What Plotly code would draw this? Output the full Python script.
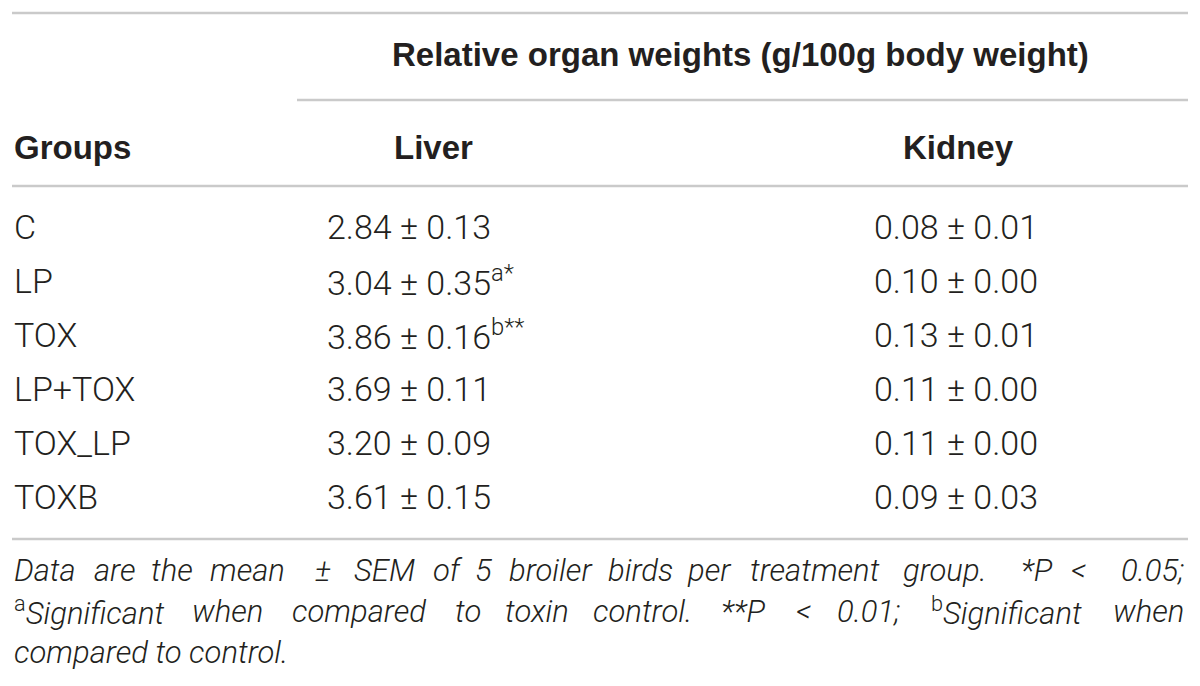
import plotly.graph_objects as go

# table content
groups = ["C", "LP", "TOX", "LP+TOX", "TOX_LP", "TOXB"]
liver_mean = [2.84, 3.04, 3.86, 3.69, 3.20, 3.61]
liver_sem = [0.13, 0.35, 0.16, 0.11, 0.09, 0.15]
liver_mark = ["", "a*", "b**", "", "", ""]
kidney_mean = [0.08, 0.10, 0.13, 0.11, 0.11, 0.09]
kidney_sem = [0.01, 0.00, 0.01, 0.00, 0.00, 0.03]

span_header = "Relative organ weights (g/100g body weight)"
col_headers = ["Groups", "Liver", "Kidney"]

# footnote, one list of words per justified line
foot_line1 = ["Data", "are", "the", "mean", "±", "SEM", "of", "5", "broiler",
              "birds", "per", "treatment", "group.", "*P", "<", "0.05;"]
foot_line2 = ["<sup>a</sup>Significant", "when", "compared", "to", "toxin",
              "control.", "**P", "<", "0.01;", "<sup>b</sup>Significant", "when"]
foot_line3 = "compared to control."

foot_x1 = [12, 115, 172, 247, 323, 384, 448, 483, 550, 640, 709, 815, 945,
           1037, 1078, 1186]
foot_x2 = [12, 227, 359, 468, 537, 642, 743, 803, 868, 1006, 1186]

INK = "#231f20"
RULE = "#cacaca"
HEAD = "Liberation Sans"
BODY = "Roboto"
W, H = 1200, 686
PAD = 8  # default page margin round the plot div

fig = go.Figure()


def rule(x0, x1, y):
    fig.add_shape(type="line", x0=x0, x1=x1, y0=y, y1=y,
                  line=dict(color=RULE, width=2.5))


def txt(x, y, s, size, anchor="left", bold=False):
    fig.add_annotation(x=x, y=y, text=s, showarrow=False, xanchor=anchor,
                       yanchor="middle",
                       font=dict(family=HEAD if bold else BODY, size=size,
                                 color=INK, weight="bold" if bold else 300))


def italic(s):
    # superscript letters stay upright, the words are italic
    if s.startswith("<sup>"):
        head, rest = s.split("</sup>", 1)
        return f"{head}</sup><i>{rest}</i>"
    return f"<i>{s}</i>"


# rules
rule(12, 1188, 13)
rule(297, 1188, 100)
rule(12, 1188, 186)
rule(12, 1188, 539)

# headers
txt(740, 54, span_header, 33, "center", bold=True)
txt(12, 147, col_headers[0], 33, "left", bold=True)
txt(433, 147, col_headers[1], 33, "center", bold=True)
txt(958, 147, col_headers[2], 33, "center", bold=True)

# body rows
row_y0, row_step = 227, 54
for i, g in enumerate(groups):
    y = row_y0 + i * row_step
    txt(12, y, g, 34)
    liver = f"{liver_mean[i]:.2f} ± {liver_sem[i]:.2f}"
    if liver_mark[i]:
        liver += f"<sup>{liver_mark[i]}</sup>"
    txt(325, y, liver, 34)
    txt(872, y, f"{kidney_mean[i]:.2f} ± {kidney_sem[i]:.2f}", 34)

# footnote
for words, xs, y in [(foot_line1, foot_x1, 570), (foot_line2, foot_x2, 611)]:
    n = len(words)
    for j, (w, x) in enumerate(zip(words, xs)):
        anchor = "left" if j == 0 else ("right" if j == n - 1 else "center")
        txt(x, y, italic(w), 31, anchor)
txt(12, 652, italic(foot_line3), 31, "left")

fig.update_xaxes(range=[PAD, W - PAD], visible=False, fixedrange=True)
fig.update_yaxes(range=[H - PAD, PAD], visible=False, fixedrange=True)
fig.update_layout(width=W - 2 * PAD, height=H - 2 * PAD,
                  margin=dict(l=0, r=0, t=0, b=0),
                  paper_bgcolor="white", plot_bgcolor="white",
                  showlegend=False)

fig.write_html("out.html")
